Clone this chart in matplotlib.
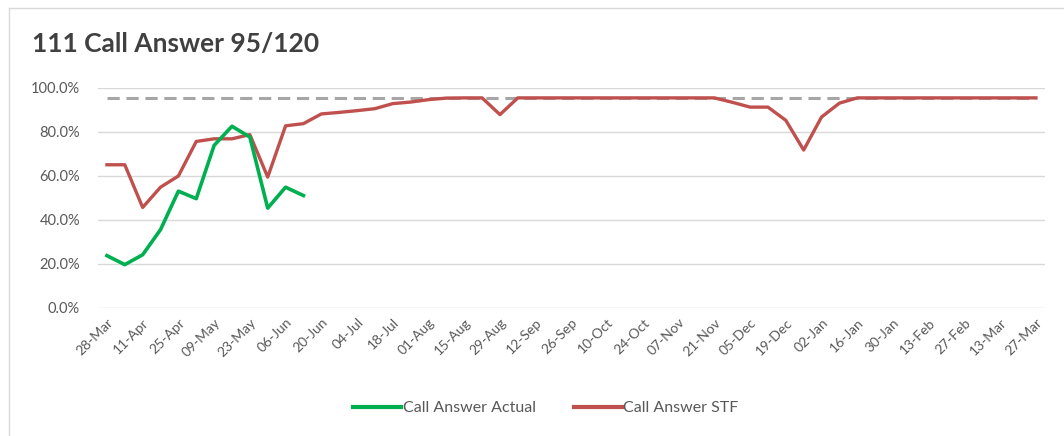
import pandas as pd
import matplotlib
matplotlib.use('Agg')
import matplotlib.pyplot as plt
from matplotlib.ticker import PercentFormatter
from matplotlib.lines import Line2D

plt.rcParams['font.family'] = ['Lato', 'DejaVu Sans']

# weekly categories, 28-Mar to 27-Mar
weeks = pd.date_range('2022-03-28', '2023-03-27', freq='7D')
week_labels = [d.strftime('%d-%b') for d in weeks]

actual = [23.8, 19.7, 24.2, 35.6, 53.1, 49.7, 73.9, 82.6, 77.7, 45.4, 54.9, 51.1]

stf = [65.1, 65.1, 45.7, 54.9, 60.0, 75.7, 76.9, 76.9, 78.8, 59.5,
       82.8, 83.8, 88.2, 88.9, 89.7, 90.6, 92.9, 93.6, 94.7, 95.4,
       95.5, 95.5, 87.9, 95.5, 95.5, 95.5, 95.5, 95.5, 95.5, 95.5,
       95.5, 95.5, 95.5, 95.5, 95.5, 93.5, 91.3, 91.3, 85.3, 71.8,
       86.8, 93.1, 95.5, 95.5, 95.5, 95.5, 95.5, 95.5, 95.5, 95.5,
       95.5, 95.5, 95.5]

target = 95.5

green = '#00B050'
red = '#C0504D'
grey_txt = '#595959'

fig = plt.figure(figsize=(10.64, 4.36), dpi=100)
ax = fig.add_axes([0.0921, 0.2936, 0.8899, 0.5046])

x_all = range(len(week_labels))
ax.plot(x_all, [target] * len(week_labels), color='#A6A6A6', lw=2.2,
        dashes=(4, 2.2), zorder=2)
ax.plot(range(len(stf)), stf, color=red, lw=2.4, zorder=3,
        solid_joinstyle='round')
ax.plot(range(len(actual)), actual, color=green, lw=2.6, zorder=4,
        solid_joinstyle='round')

ax.set_xlim(-0.5, len(week_labels) - 0.5)
ax.set_ylim(0, 100)
ax.set_yticks([0, 20, 40, 60, 80, 100])
ax.yaxis.set_major_formatter(PercentFormatter(decimals=1))
ax.grid(axis='y', color='#D9D9D9', lw=1)
ax.set_axisbelow(True)
for s in ax.spines.values():
    s.set_visible(False)

ticks = list(range(0, len(week_labels), 2))
ax.set_xticks(ticks)
ax.set_xticklabels([week_labels[i] for i in ticks], rotation=45,
                   ha='right', rotation_mode='anchor', fontsize=10,
                   color=grey_txt)
ax.tick_params(axis='both', length=0)
ax.tick_params(axis='x', pad=6)
ax.tick_params(axis='y', pad=13, labelsize=10.5, labelcolor=grey_txt)

fig.text(0.030, 0.88, '111 Call Answer 95/120', fontsize=19,
         fontweight='bold', color='#404040', va='baseline')

handles = [Line2D([], [], color=green, lw=3),
           Line2D([], [], color=red, lw=3)]
fig.legend(handles, ['Call Answer Actual', 'Call Answer STF'],
           loc='center', bbox_to_anchor=(0.513, 0.064), ncol=2,
           frameon=False, fontsize=11.5, handlelength=3.0,
           handletextpad=0.1, columnspacing=2.4,
           labelcolor=grey_txt)

# chart frame (top and left edges visible)
fig.add_artist(Line2D([0.0085, 1.0], [0.982, 0.982], color='#D9D9D9',
                      lw=1, transform=fig.transFigure))
fig.add_artist(Line2D([0.0085, 0.0085], [0.0, 0.982], color='#D9D9D9',
                      lw=1, transform=fig.transFigure))

fig.savefig('out.png', dpi=100)
